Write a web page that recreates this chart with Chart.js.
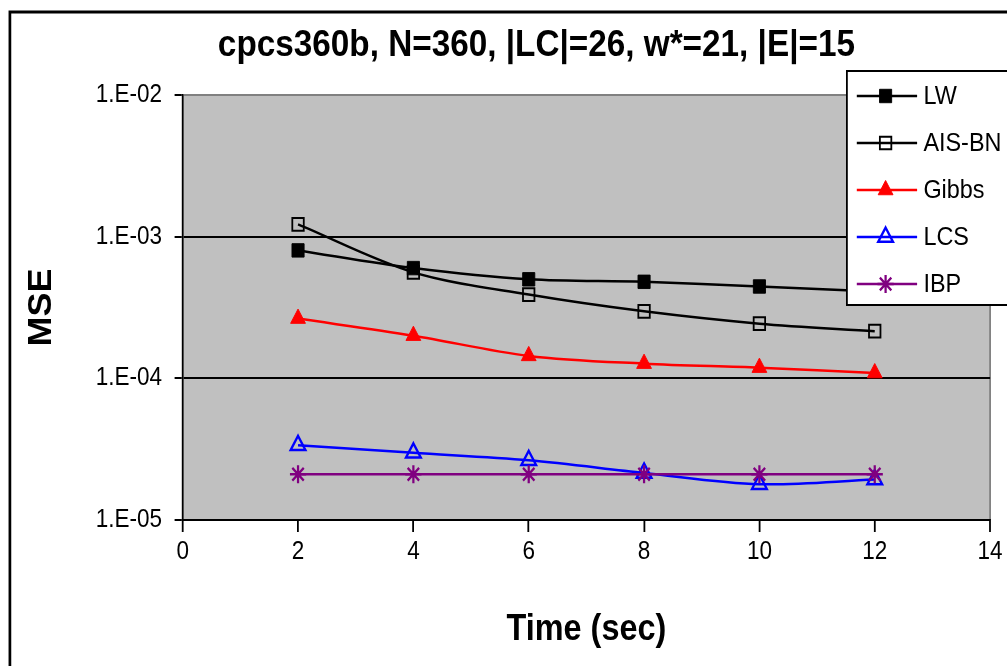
<!DOCTYPE html>
<html>
<head>
<meta charset="utf-8">
<script src="https://cdn.jsdelivr.net/npm/chart.js@4.4.1/dist/chart.umd.min.js"></script>
<style>
  html, body { margin: 0; padding: 0; background: #ffffff; overflow: hidden; }
  #wrap { width: 1007px; height: 666px; position: relative; overflow: hidden; }
  #c { display: block; }
</style>
</head>
<body>
<div id="wrap"><canvas id="c" width="1119" height="666"></canvas></div>
<script>
// Chart data
const chartTitle = 'cpcs360b, N=360, |LC|=26, w*=21, |E|=15';
const xAxisTitle = 'Time (sec)';
const yAxisTitle = 'MSE';
const times = [2, 4, 6, 8, 10, 12];
const xTickValues = [0, 2, 4, 6, 8, 10, 12, 14];
const yTickValues = [1e-5, 1e-4, 1e-3, 1e-2];
const yTickLabels = ['1.E-05', '1.E-04', '1.E-03', '1.E-02'];
const seriesNames = ['LW', 'AIS-BN', 'Gibbs', 'LCS', 'IBP'];
const lwMSE    = [8.0e-4, 6.0e-4, 5.0e-4, 4.8e-4, 4.45e-4, 4.1e-4];
const aisbnMSE = [1.22e-3, 5.6e-4, 3.9e-4, 2.97e-4, 2.43e-4, 2.15e-4];
const gibbsMSE = [2.64e-4, 2.0e-4, 1.44e-4, 1.27e-4, 1.19e-4, 1.09e-4];
const lcsMSE   = [3.37e-5, 2.98e-5, 2.64e-5, 2.15e-5, 1.79e-5, 1.93e-5];
const ibpMSE   = [2.1e-5, 2.1e-5, 2.1e-5, 2.1e-5, 2.1e-5, 2.1e-5];

const FONT = '"Liberation Sans", Arial, Helvetica, sans-serif';
// The whole drawing is set in slightly condensed type: the chart is laid out
// on a wider canvas and drawn with a horizontal squeeze.
const SX = 0.9;

const toPoints = vals => times.map((t, i) => ({ x: t, y: vals[i] }));

function series(label, vals, color, style, fill, radius, lineW, markW, order) {
  return {
    label: label,
    data: toPoints(vals),
    borderColor: color,
    borderWidth: lineW,
    pointStyle: style,
    pointRadius: radius,
    pointHoverRadius: radius,
    pointBackgroundColor: fill,
    pointBorderColor: color,
    pointBorderWidth: markW,
    tension: 0.33,
    fill: false,
    order: order
  };
}

const squeezePlugin = {
  id: 'squeezePlugin',
  beforeDraw(chart) {
    chart.ctx.save();
    chart.ctx.scale(SX, 1);
  },
  afterDraw(chart) {
    chart.ctx.restore();
  }
};

// Gray plot area, outer frame and the chart heading
const framePlugin = {
  id: 'framePlugin',
  beforeDraw(chart) {
    const { ctx, chartArea: a } = chart;
    ctx.save();
    ctx.fillStyle = '#ffffff';
    ctx.fillRect(0, 0, chart.width, chart.height);
    ctx.strokeStyle = '#000000';
    ctx.lineWidth = 3;
    ctx.strokeRect(11, 12, chart.width + 40, chart.height + 40);
    ctx.fillStyle = '#C0C0C0';
    ctx.fillRect(a.left, a.top, a.right - a.left, a.bottom - a.top);
    ctx.strokeStyle = '#808080';
    ctx.lineWidth = 2;
    ctx.beginPath();
    ctx.moveTo(a.right, a.top);
    ctx.lineTo(a.right, a.bottom);
    ctx.stroke();
    ctx.fillStyle = '#000000';
    ctx.font = 'bold 37px ' + FONT;
    ctx.textAlign = 'center';
    ctx.textBaseline = 'alphabetic';
    ctx.fillText(chartTitle, 596, 56);
    ctx.restore();
  }
};

// Boxed legend in the upper right corner
const boxLegendPlugin = {
  id: 'boxLegendPlugin',
  afterDatasetsDraw(chart) {
    const ctx = chart.ctx;
    const x0 = 941, y0 = 71, w = 220, h = 234;
    ctx.save();
    ctx.fillStyle = '#ffffff';
    ctx.fillRect(x0, y0, w, h);
    ctx.strokeStyle = '#000000';
    ctx.lineWidth = 2;
    ctx.strokeRect(x0, y0, w, h);
    chart.data.datasets.forEach((ds, i) => {
      const y = 96 + i * 47;
      ctx.strokeStyle = ds.borderColor;
      ctx.lineWidth = ds.borderWidth;
      ctx.beginPath();
      ctx.moveTo(952, y);
      ctx.lineTo(1019, y);
      ctx.stroke();
      ctx.fillStyle = ds.pointBackgroundColor;
      ctx.strokeStyle = ds.pointBorderColor;
      ctx.lineWidth = ds.pointBorderWidth;
      Chart.helpers.drawPoint(ctx, {
        pointStyle: ds.pointStyle,
        radius: ds.pointRadius,
        rotation: 0,
        borderWidth: ds.pointBorderWidth
      }, 984, y);
      ctx.fillStyle = '#000000';
      ctx.font = '26px ' + FONT;
      ctx.textAlign = 'left';
      ctx.textBaseline = 'middle';
      ctx.fillText(ds.label, 1026, y + 1);
    });
    ctx.restore();
  }
};

new Chart(document.getElementById('c'), {
  type: 'line',
  data: {
    datasets: [
      series(seriesNames[0], lwMSE,    '#000000', 'rect',     '#000000',       9.5, 2.5, 1,   5),
      series(seriesNames[1], aisbnMSE, '#000000', 'rect',     'rgba(0,0,0,0)', 9,   2.5, 2,   4),
      series(seriesNames[2], gibbsMSE, '#FF0000', 'triangle', '#FF0000',       9.5, 2.5, 1,   3),
      series(seriesNames[3], lcsMSE,   '#0000FF', 'triangle', 'rgba(0,0,0,0)', 9.5, 2.5, 2.5, 2),
      series(seriesNames[4], ibpMSE,   '#800080', 'star',     'rgba(0,0,0,0)', 9,   2.5, 2.5, 1)
    ]
  },
  options: {
    responsive: false,
    animation: false,
    devicePixelRatio: 1,
    events: [],
    layout: { padding: { left: 0, right: 16, top: 95, bottom: 0 } },
    plugins: {
      legend: { display: false },
      title: { display: false },
      tooltip: { enabled: false }
    },
    scales: {
      x: {
        type: 'linear',
        min: 0,
        max: 14,
        afterBuildTicks: s => { s.ticks = xTickValues.map(v => ({ value: v })); },
        afterFit: s => { s.height = 146; },
        ticks: {
          color: '#000000',
          font: { family: FONT, size: 25 },
          padding: 5,
          maxRotation: 0,
          autoSkip: false
        },
        grid: { drawOnChartArea: false, color: '#000000', lineWidth: 2, tickLength: 12 },
        border: { color: '#000000', width: 2 },
        title: {
          display: true,
          text: xAxisTitle,
          color: '#000000',
          font: { family: FONT, size: 36, weight: 'bold' },
          padding: { top: 0, bottom: 14 }
        }
      },
      y: {
        type: 'logarithmic',
        min: 1e-5,
        max: 1e-2,
        afterBuildTicks: s => { s.ticks = yTickValues.map(v => ({ value: v, major: true })); },
        afterFit: s => { s.width = 203; },
        ticks: {
          color: '#000000',
          font: { family: FONT, size: 25 },
          padding: 14,
          autoSkip: false,
          callback: (v, i) => yTickLabels[i]
        },
        grid: {
          color: c => (c.tick && c.tick.value === 1e-2) ? '#808080' : '#000000',
          tickColor: '#000000',
          lineWidth: 2,
          tickLength: 9
        },
        border: { color: '#000000', width: 2 },
        title: {
          display: true,
          text: yAxisTitle,
          color: '#000000',
          font: { family: FONT, size: 36, weight: 'bold' },
          padding: { top: 25, bottom: 0 }
        }
      }
    }
  },
  plugins: [squeezePlugin, framePlugin, boxLegendPlugin]
});
</script>
</body>
</html>
